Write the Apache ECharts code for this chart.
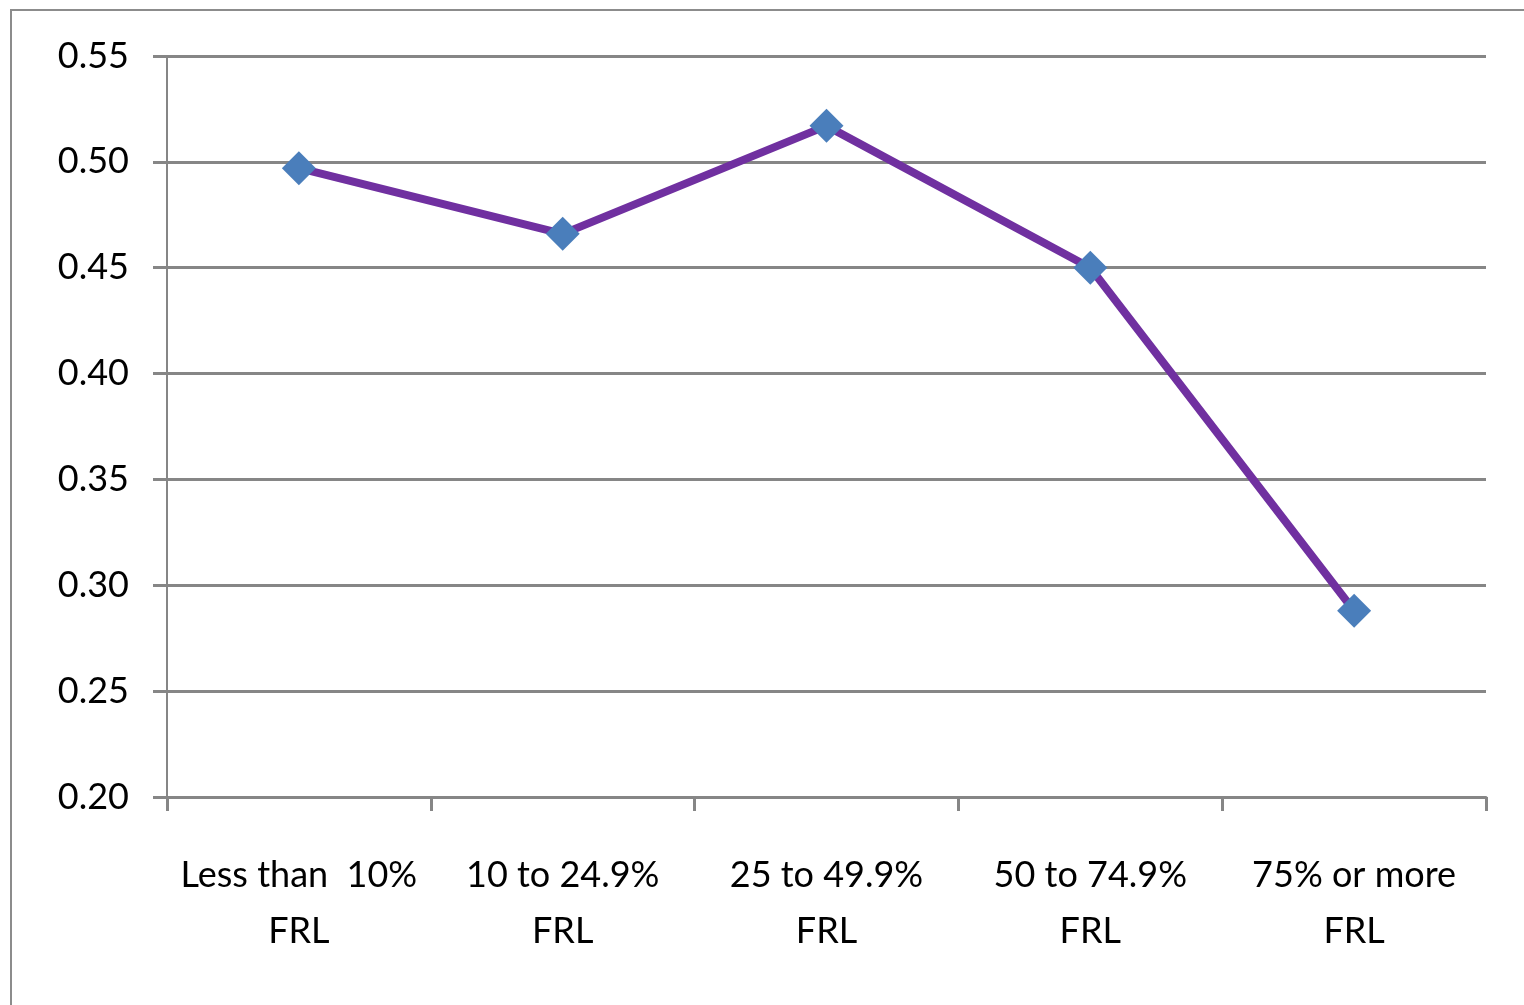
<!DOCTYPE html>
<html><head><meta charset="utf-8">
<script src="https://cdn.jsdelivr.net/npm/echarts@6/dist/echarts.min.js"></script>
<style>html,body{margin:0;padding:0;background:#fff}#c{width:1524px;height:1005px}</style>
</head><body><div id="c"></div>
<script>
const categories = ["Less than  10%\nFRL", "10 to 24.9%\nFRL", "25 to 49.9%\nFRL", "50 to 74.9%\nFRL", "75% or more\nFRL"];
const values = [0.497, 0.466, 0.517, 0.450, 0.288];
const yMin = 0.20, yMax = 0.55, yStep = 0.05;

const chart = echarts.init(document.getElementById('c'), null, {renderer: 'canvas'});
const font = 'Lato, "Open Sans", sans-serif';
chart.setOption({
  animation: false,
  backgroundColor: '#ffffff',
  graphic: [{
    type: 'rect', shape: {x: 11, y: 10, width: 1540, height: 1020},
    style: {fill: 'none', stroke: '#8c8c8c', lineWidth: 2}, z: 0
  }],
  grid: {left: 167, right: 38, top: 56, bottom: 208, containLabel: false},
  xAxis: {
    type: 'category', data: categories, boundaryGap: true,
    axisLine: {lineStyle: {color: '#868686', width: 3}},
    axisTick: {show: true, alignWithLabel: false, length: 14, lineStyle: {color: '#868686', width: 3}},
    axisLabel: {color: '#000', fontSize: 36, fontFamily: font, margin: 50, lineHeight: 56, interval: 0}
  },
  yAxis: {
    type: 'value', min: yMin, max: yMax, interval: yStep,
    axisLine: {show: true, lineStyle: {color: '#868686', width: 2}},
    axisTick: {show: true, length: 14, lineStyle: {color: '#868686', width: 3}},
    splitLine: {show: true, lineStyle: {color: '#868686', width: 3}},
    axisLabel: {color: '#000', fontSize: 36, fontFamily: font, margin: 38,
      padding: [8, 0, 0, 0],
      formatter: v => v.toFixed(2)}
  },
  series: [{
    type: 'line', data: values,
    lineStyle: {color: '#7030A0', width: 8},
    symbol: 'diamond', symbolSize: 34,
    itemStyle: {color: '#4A7EBB'},
    z: 3
  }]
});
</script></body></html>
